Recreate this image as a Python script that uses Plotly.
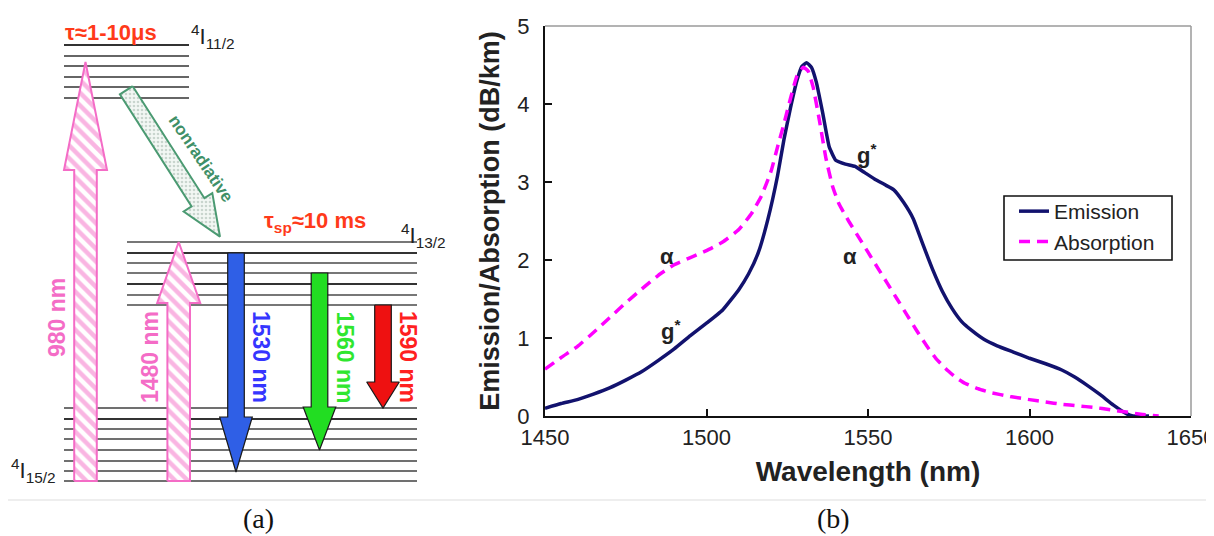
import plotly.graph_objects as go

# ---------------- data (right panel) ----------------
em_wl = [1450, 1455, 1460, 1465, 1470, 1475, 1480, 1485, 1490, 1495, 1500, 1505, 1510, 1513, 1516,
         1519, 1522, 1524, 1526, 1528, 1529.5, 1531, 1532.5, 1534, 1536, 1538, 1540, 1543, 1546, 1549,
         1552, 1555, 1558, 1561, 1564, 1567, 1570, 1573, 1576, 1579, 1582, 1586, 1590, 1595, 1600,
         1605, 1610, 1614, 1618, 1622, 1626, 1630, 1632, 1637]
emission = [0.10, 0.16, 0.21, 0.28, 0.36, 0.46, 0.57, 0.71, 0.86, 1.03, 1.19, 1.36, 1.62, 1.82, 2.09,
            2.52, 3.08, 3.55, 3.95, 4.30, 4.48, 4.53, 4.47, 4.28, 3.88, 3.45, 3.28, 3.23, 3.20, 3.12,
            3.04, 2.97, 2.90, 2.74, 2.53, 2.20, 1.88, 1.60, 1.38, 1.21, 1.10, 0.98, 0.90, 0.82, 0.74,
            0.67, 0.59, 0.50, 0.39, 0.27, 0.14, 0.03, 0.0, 0.0]

abs_wl = [1450, 1455, 1460, 1465, 1470, 1475, 1480, 1485, 1490, 1495, 1500, 1505, 1510, 1514, 1517,
          1520, 1522, 1524, 1526, 1528, 1530, 1531.5, 1533, 1535, 1537, 1539, 1541, 1544, 1547, 1550,
          1553, 1556, 1559, 1562, 1565, 1568, 1571, 1574, 1577, 1580, 1584, 1588, 1594, 1600, 1605,
          1610, 1615, 1620, 1625, 1630, 1635, 1640]
absorption = [0.60, 0.75, 0.89, 1.07, 1.26, 1.45, 1.63, 1.80, 1.94, 2.03, 2.12, 2.23, 2.39, 2.60, 2.82,
              3.14, 3.45, 3.75, 4.07, 4.36, 4.47, 4.42, 4.22, 3.78, 3.30, 2.95, 2.72, 2.50, 2.30, 2.10,
              1.90, 1.70, 1.50, 1.30, 1.10, 0.91, 0.74, 0.61, 0.50, 0.42, 0.35, 0.30, 0.25, 0.21, 0.18,
              0.15, 0.13, 0.11, 0.08, 0.05, 0.02, 0.0]

x_ticks = [1450, 1500, 1550, 1600, 1650]
y_ticks = [0, 1, 2, 3, 4, 5]

curve_labels = ["α", "g<sup>*</sup>", "g<sup>*</sup>", "α"]
curve_label_x = [1487.7, 1489.0, 1549.5, 1544.5]
curve_label_y = [2.05, 1.10, 3.36, 2.05]

# ---------------- data (left panel: energy level diagram, screen-pixel units) ----------------
upper_levels = [45, 56, 66, 77, 87, 98]
mid_levels = [242, 253, 263, 273, 284, 295, 305]
ground_levels = [408, 419, 429, 439, 450, 461, 471, 481]

pump_names = ["980 nm", "1480 nm"]
pump_x = [85.5, 178.7]
pump_tip = [62, 242]
pump_base = [170, 303]

emit_names = ["1530 nm", "1560 nm", "1590 nm"]
emit_x = [236, 319.5, 383]
emit_top = [253, 273, 305]
emit_base = [417, 407, 382]
emit_tip = [472, 450, 408]
emit_fill = ["#2f5fe6", "#22dd22", "#ee1111"]
emit_text = ["#3535ff", "#2fe62f", "#ff2020"]

# page: 1214x536 window, body margin 8px -> figure drawn at (8, 8)
SW, SH = 1214, 536
OFF = 8
FW, FH = SW - OFF, SH - OFF
FONT = "Liberation Sans, Arial, sans-serif"
PINK = "#f46cc6"


def px_x(x):
    return (x - OFF) / FW


def px_y(y):
    return 1 - (y - OFF) / FH


fig = go.Figure()

fig.add_trace(go.Scatter(x=em_wl, y=emission, name="Emission", mode="lines",
                         line=dict(color="#12126e", width=3.5, shape="spline", smoothing=0.4)))
fig.add_trace(go.Scatter(x=abs_wl, y=absorption, name="Absorption", mode="lines",
                         line=dict(color="#ff00ff", width=3.5, dash="11px,7px", shape="spline", smoothing=0.4)))


def varrow(xc, y_tail, y_tip, y_base, shw, hhw):
    xs = [xc - shw, xc - shw, xc - hhw, xc, xc + hhw, xc + shw, xc + shw, xc - shw]
    ys = [y_tail, y_base, y_base, y_tip, y_base, y_base, y_tail, y_tail]
    return xs, ys


# pump arrows (hatched pink)
for xc, tip, base in zip(pump_x, pump_tip, pump_base):
    xs, ys = varrow(xc, ground_levels[-1], tip, base, 11.3, 21.5)
    fig.add_trace(go.Scatter(x=xs, y=ys, xaxis="x2", yaxis="y2", mode="lines", fill="toself",
                             fillcolor="white",
                             fillpattern=dict(shape="\\", fgcolor=PINK, bgcolor="white", size=9, solidity=0.5),
                             line=dict(color=PINK, width=2), showlegend=False, hoverinfo="skip"))

# emission arrows
for xc, top, base, tip, col in zip(emit_x, emit_top, emit_base, emit_tip, emit_fill):
    xs, ys = varrow(xc, top, tip, base, 8.3, 16.3)
    fig.add_trace(go.Scatter(x=xs, y=ys, xaxis="x2", yaxis="y2", mode="lines", fill="toself",
                             fillcolor=col, line=dict(color="#1a1a1a", width=1.2),
                             showlegend=False, hoverinfo="skip"))

# nonradiative arrow (diagonal)
tx, ty = 126.3, 90.3
ux, uy = 0.539, 0.842
nx, ny = 0.842, -0.539
L, hb, shw, hhw = 173.8, 133.0, 7.6, 17.0
pts = [(shw, 0), (shw, hb), (hhw, hb), (0, L), (-hhw, hb), (-shw, hb), (-shw, 0), (shw, 0)]
nr_x = [tx + a * nx + b * ux for a, b in pts]
nr_y = [ty + a * ny + b * uy for a, b in pts]
fig.add_trace(go.Scatter(x=nr_x, y=nr_y, xaxis="x2", yaxis="y2", mode="lines", fill="toself",
                         fillcolor="#eef3f0",
                         fillpattern=dict(shape=".", fgcolor="#9fb3a8", bgcolor="#f3f7f4", size=4, solidity=0.35),
                         line=dict(color="#4b9a72", width=2), showlegend=False, hoverinfo="skip"))

shapes = []
for y in upper_levels:
    shapes.append(dict(type="line", xref="x2", yref="y2", x0=64, x1=189, y0=y, y1=y,
                       line=dict(color="#333" if y == upper_levels[0] else "#666", width=2), layer="below"))
for i, y in enumerate(mid_levels):
    shapes.append(dict(type="line", xref="x2", yref="y2", x0=127, x1=417, y0=y, y1=y,
                       line=dict(color="#333" if i % 3 == 1 else "#777", width=2), layer="below"))
for i, y in enumerate(ground_levels):
    shapes.append(dict(type="line", xref="x2", yref="y2", x0=64, x1=417, y0=y, y1=y,
                       line=dict(color="#333" if i == 1 else "#707070", width=2), layer="below"))
# separator line
shapes.append(dict(type="line", xref="x2", yref="y2", x0=8, x1=1214, y0=500, y1=500,
                   line=dict(color="#dddddd", width=1)))
# top/right frame of the plot
shapes.append(dict(type="line", xref="x domain", yref="y domain", x0=0, x1=1, y0=1, y1=1,
                   line=dict(color="#9a9a9a", width=1.5)))
shapes.append(dict(type="line", xref="x domain", yref="y domain", x0=1, x1=1, y0=0, y1=1,
                   line=dict(color="#9a9a9a", width=1.5)))
# legend frame
shapes.append(dict(type="rect", xref="x2", yref="y2", x0=1004, x1=1172, y0=196, y1=260,
                   line=dict(color="#111", width=1.6), fillcolor="rgba(0,0,0,0)"))

ann = []


def A(x, y, text, size=22, color="#222", xanchor="center", angle=0, bold=False, family=FONT):
    t = f"<b>{text}</b>" if bold else text
    ann.append(dict(x=x, y=y, xref="x2", yref="y2", text=t, showarrow=False,
                    xanchor=xanchor, yanchor="middle", textangle=angle,
                    font=dict(family=family, size=size, color=color)))


A(63, 32, "τ≈1-10μs", size=22, color="#ff3a1a", xanchor="left", bold=True)
A(189, 36, "<sup>4</sup>I<sub>11/2</sub>", size=22, xanchor="left")
A(201, 158, "nonradiative", size=17, color="#3f9068", angle=56, bold=True)
A(262, 222, "τ<sub>sp</sub>≈10 ms", size=22, color="#ff3a1a", xanchor="left", bold=True)
A(399, 235, "<sup>4</sup>I<sub>13/2</sub>", size=22, xanchor="left")
A(9, 470, "<sup>4</sup>I<sub>15/2</sub>", size=22, xanchor="left")
A(57, 318, pump_names[0], size=23, color=PINK, angle=-90, bold=True)
A(150, 357, pump_names[1], size=23, color=PINK, angle=-90, bold=True)
for xc, name, col in zip(emit_x, emit_names, emit_text):
    A(xc + 25, 357, name, size=23, color=col, angle=90, bold=True)
A(258, 518, "(a)", size=28, color="#111", family="Liberation Serif, Times New Roman, serif")
A(833, 518, "(b)", size=28, color="#111", family="Liberation Serif, Times New Roman, serif")

for t, x, y in zip(curve_labels, curve_label_x, curve_label_y):
    ann.append(dict(x=x, y=y, xref="x", yref="y", text=f"<b>{t}</b>", showarrow=False,
                    font=dict(family=FONT, size=22, color="#222")))

fig.update_layout(
    width=FW, height=FH, margin=dict(l=0, r=0, t=0, b=0, autoexpand=False),
    paper_bgcolor="white", plot_bgcolor="rgba(0,0,0,0)",
    font=dict(family=FONT, color="#222"),
    xaxis=dict(domain=[px_x(545), px_x(1191)], range=[1450, 1650], tickvals=x_ticks,
               ticks="inside", ticklen=7, tickwidth=2, tickcolor="#111", automargin=False,
               ticklabeloverflow="allow", ticklabelstandoff=1,
               showline=True, linecolor="#111", linewidth=2, showgrid=False, zeroline=False,
               tickfont=dict(size=22, color="#222"),
               title=dict(text="<b>Wavelength (nm)</b>", font=dict(size=28, color="#222"), standoff=12)),
    yaxis=dict(domain=[px_y(416), px_y(26)], range=[0, 5], tickvals=y_ticks,
               ticks="inside", ticklen=7, tickwidth=2, tickcolor="#111", automargin=False,
               ticklabeloverflow="allow", ticklabelstandoff=9,
               showline=True, linecolor="#111", linewidth=2, showgrid=False, zeroline=False,
               tickfont=dict(size=22, color="#222"),
               title=dict(text="<b>Emission/Absorption (dB/km)</b>", font=dict(size=27, color="#222"), standoff=10)),
    xaxis2=dict(domain=[0, 1], range=[OFF, SW], visible=False, anchor="y2", fixedrange=True, automargin=False),
    yaxis2=dict(domain=[0, 1], range=[SH, OFF], visible=False, anchor="x2", fixedrange=True, automargin=False),
    legend=dict(x=px_x(1014), y=px_y(191), xanchor="left", yanchor="top",
                borderwidth=0, bgcolor="rgba(0,0,0,0)",
                font=dict(size=21, color="#222"), itemwidth=30),
    shapes=shapes, annotations=ann,
)

fig.write_html("out.html")
